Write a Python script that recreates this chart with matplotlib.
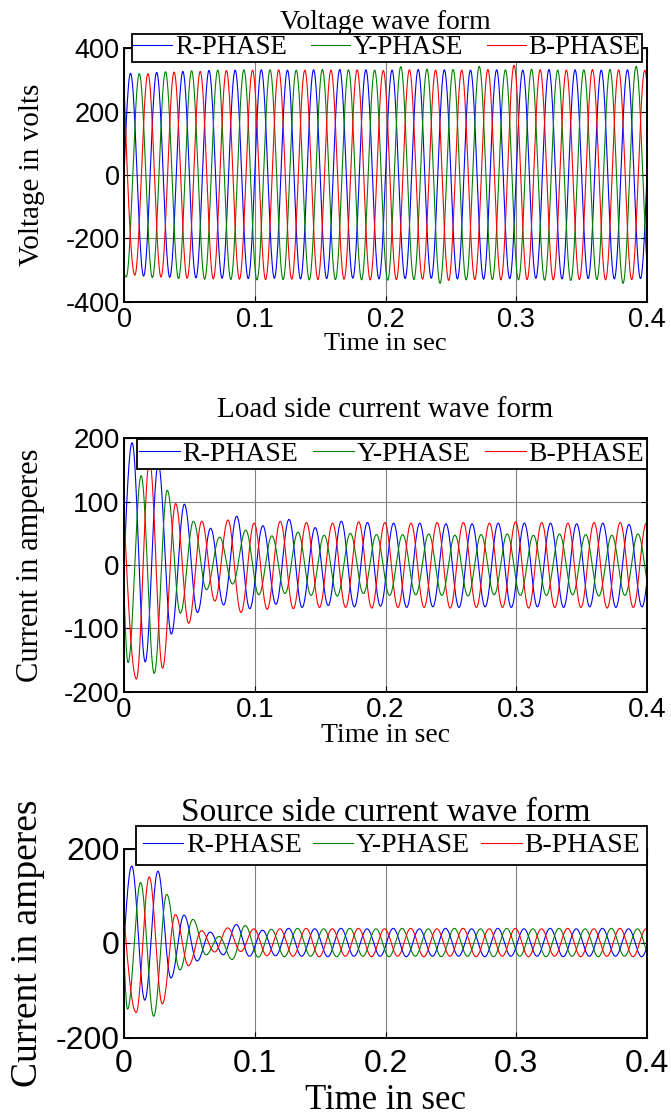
import numpy as np
import matplotlib
matplotlib.use('Agg')
import matplotlib.pyplot as plt

plt.rcParams['font.family'] = 'Liberation Sans'
plt.rcParams['axes.unicode_minus'] = False

# time axis and tick labels
t_ticks = [0, 0.1, 0.2, 0.3, 0.4]
t_labels = ['0', '0.1', '0.2', '0.3', '0.4']
phases = ['R-PHASE', 'Y-PHASE', 'B-PHASE']
half = 0.01   # 50 Hz -> one extremum every 10 ms

# each phase: value at t=0, time of first extremum, then the peak/trough values
# one half cycle after the other
v_y0 = [0, -310, 289]
v_t1 = [0.005, 0.0017, 0.0083]
v_R = [321, -319, 324, -323, 327, -325, 330, -326, 331, -327, 332, -326, 331, -328,
       332, -327, 333, -326, 332, -328, 331, -327, 333, -326, 332, -328, 331, -329,
       332, -327, 331, -326, 333, -328, 332, -327, 331, -328, 332, -327, 331, -328]
v_Y = [-322, 320, -324, 326, -327, 329, -329, 331, -330, 332, -331, 332, -330, 331,
       -331, 333, -330, 332, -331, 331, -332, 342, -330, 334, -342, 333, -331, 343,
       -330, 332, -331, 334, -332, 331, -333, 332, -330, 333, -342, 343, -331, 332]
v_B = [-316, 320, -322, 325, -326, 327, -328, 330, -329, 331, -330, 332, -329, 331,
       -330, 331, -329, 332, -331, 330, -330, 332, -329, 331, -333, 331, -330, 333,
       -331, 346, -330, 332, -331, 331, -330, 333, -331, 332, -330, 331, -330, 332]

il_y0 = [0, -45, 80]
il_t1 = [0.0062, 0.0031, 0.0095]
il_R = [193, -153, 160, -109, 96, -75, 58, -63, 77, -69, 62, -62, 72, -67, 59, -64,
        69, -66, 67, -65, 66, -67, 66, -66, 65, -67, 65, -66, 66, -67, 66, -66, 66,
        -67, 65, -66, 66, -67, 64, -66, 66, -67]
il_Y = [-154, 141, -171, 118, -76, 69, -39, 44, -30, 55, -47, 46, -45, 52, -48, 47,
        -49, 50, -45, 48, -48, 48, -47, 49, -48, 47, -49, 48, -47, 49, -48, 47, -48,
        49, -47, 48, -49, 47, -48, 49, -47, 48]
il_B = [-180, 165, -163, 97, -92, 69, -57, 71, -75, 66, -70, 69, -69, 67, -67, 66,
        -67, 68, -68, 67, -67, 66, -67, 67, -68, 67, -67, 66, -67, 68, -68, 67, -67,
        66, -67, 67, -68, 67, -67, 66, -67, 67]

is_y0 = [0, -28, 55]
is_t1 = [0.0059, 0.0027, 0.0093]
is_R = [163, -121, 152, -74, 59, -38, 23, -25, 39, -28, 27, -27, 31, -28, 30, -29,
        31, -28, 30, -28, 31, -29, 30, -28, 31, -28, 30, -29, 31, -28, 30, -28, 31,
        -29, 30, -28, 31, -28, 30, -29, 31, -28]
is_Y = [-140, 128, -155, 103, -57, 50, -25, 14, -35, 37, -30, 29, -29, 31, -28, 30,
        -29, 31, -28, 30, -29, 31, -28, 30, -29, 31, -28, 30, -29, 31, -28, 30, -29,
        31, -28, 30, -29, 31, -28, 30, -29, 31]
is_B = [-147, 140, -129, 60, -48, 26, -19, 32, -18, 30, -27, 30, -28, 31, -29, 30,
        -28, 31, -29, 30, -28, 31, -29, 30, -28, 31, -29, 30, -28, 31, -29, 30, -28,
        31, -29, 30, -28, 31, -29, 30, -28, 31]


def wave(t, y0, t1, ext):
    # join the read extrema with half-cosine segments
    ext = np.asarray(ext, dtype=float)
    tk = t1 + half * np.arange(len(ext))
    y = np.empty_like(t)
    m = t < t1
    y[m] = y0 + (ext[0] - y0) * np.sin(0.5 * np.pi * t[m] / t1)
    idx = np.clip(np.searchsorted(tk, t[~m], side='right') - 1, 0, len(ext) - 2)
    frac = (t[~m] - tk[idx]) / half
    va, vb = ext[idx], ext[idx + 1]
    y[~m] = (va + vb) / 2 + (va - vb) / 2 * np.cos(np.pi * frac)
    return y


t = np.linspace(0, 0.4, 8001)
colors = ['#0000ff', '#008000', '#ff0000']

fig = plt.figure(figsize=(6.71, 11.18), dpi=100)
W, H = 671.0, 1118.0
serif = 'Liberation Serif'

plots = [
    dict(box=(124, 48.3, 647, 301.7), y0=v_y0, t1=v_t1, data=[v_R, v_Y, v_B],
         ylim=(-400, 400), yticks=[-400, -200, 0, 200, 400],
         title='Voltage wave form', ylabel='Voltage in volts',
         tick=19.5, tfs=20, lfs=21, xfs=19, gfs=19.4, bp=0.05, tpad=14,
         leg=(131.7, 641.7, 34), xpad=4, lpad=0),
    dict(box=(124, 438.3, 647, 691.7), y0=il_y0, t1=il_t1, data=[il_R, il_Y, il_B],
         ylim=(-200, 200), yticks=[-200, -100, 0, 100, 200],
         title='Load side current wave form', ylabel='Current in amperes',
         tick=20, tfs=21, lfs=22, xfs=20, gfs=20, bp=0.08, tpad=15,
         leg=(137, 646.5, 439.3), xpad=4, lpad=0),
    dict(box=(124, 848.5, 647, 1037.5), y0=is_y0, t1=is_t1, data=[is_R, is_Y, is_B],
         ylim=(-200, 200), yticks=[-200, 0, 200],
         title='Source side current wave form', ylabel='Current in amperes',
         tick=23, tfs=24, lfs=27, xfs=25, gfs=20, bp=0.25, tpad=20,
         leg=(136, 647, 826), xpad=8, lpad=4),
]

for p in plots:
    x0, ytop, x1, ybot = p['box']
    ax = fig.add_axes([x0 / W, 1 - ybot / H, (x1 - x0) / W, (ybot - ytop) / H])
    lines = []
    for k in range(3):
        y = wave(t, p['y0'][k], p['t1'][k], p['data'][k])
        ln, = ax.plot(t, y, color=colors[k], lw=0.8)
        lines.append(ln)
    ax.set_xlim(0, 0.4)
    ax.set_ylim(*p['ylim'])
    ax.set_xticks(t_ticks)
    ax.set_xticklabels(t_labels)
    ax.set_yticks(p['yticks'])
    ax.set_yticklabels([str(v) for v in p['yticks']])
    ax.grid(True, color='#7f7f7f', lw=0.8)
    ax.set_axisbelow(True)
    ax.tick_params(direction='in', top=True, right=True, length=4, width=0.8,
                   labelsize=p['tick'], pad=3)
    ax.tick_params(axis='x', pad=p['xpad'])
    for s in ax.spines.values():
        s.set_linewidth(1.4)
    ax.set_title(p['title'], family=serif, fontsize=p['tfs'], pad=p['tpad'])
    ax.set_ylabel(p['ylabel'], family=serif, fontsize=p['lfs'])
    ax.yaxis.set_label_coords(-0.152, 0.5)
    ax.set_xlabel('Time in sec', family=serif, fontsize=p['xfs'], labelpad=p['lpad'])

    lx0, lx1, ltop = p['leg']
    hgt = ybot - ytop
    bb = ((lx0 - x0) / (x1 - x0), 0, (lx1 - lx0) / (x1 - x0), (ybot - ltop) / hgt)
    leg = ax.legend(lines, phases, loc='upper left', bbox_to_anchor=bb, mode='expand',
                    ncol=3, borderaxespad=0, borderpad=p['bp'], handlelength=1.45,
                    handletextpad=0.1, columnspacing=0.3, fancybox=False,
                    framealpha=1, edgecolor='black',
                    prop={'family': serif, 'size': p['gfs']})
    leg.get_frame().set_linewidth(1.3)

fig.savefig('out.png', dpi=100)
